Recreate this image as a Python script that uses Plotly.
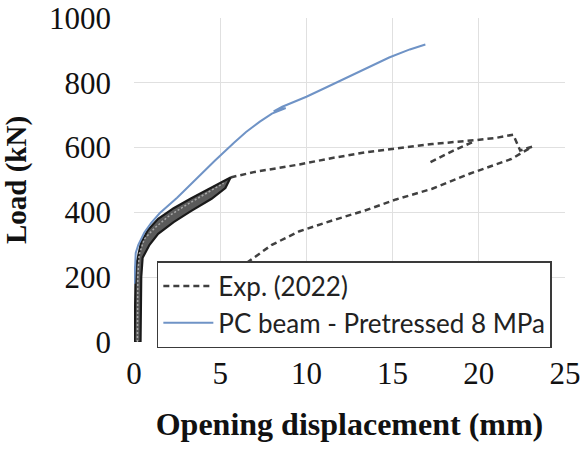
import plotly.graph_objects as go

# PC beam - Pretressed 8 MPa (numerical)
pc_x = [0.02, 0.05, 0.1, 0.25, 0.6, 1.0, 1.5, 2.5, 3.5, 4.7, 5.8, 6.5, 7.3, 8.0,
        8.8, 8.1, 8.6, 10.0, 11.2, 12.3, 13.5, 14.8, 16.0, 16.9]
pc_y = [180, 250, 275, 300, 338, 368, 398, 445, 498, 560, 615, 648, 680, 705,
        722, 712, 726, 757, 787, 815, 847, 878, 903, 918]

# Experimental (2022) - dense initial loading band (outline of the band)
band_x = [0.03, 0.06, 0.1, 0.4, 0.8, 1.4, 2.3, 3.3, 4.5, 5.6,
          5.3, 4.5, 3.3, 2.3, 1.4, 0.9, 0.5, 0.42, 0.38, 0.03]
band_y = [0, 150, 230, 305, 345, 380, 413, 443, 476, 508,
          475, 442, 404, 370, 334, 300, 260, 200, 0, 0]
# inner texture line of the band
inner_x = [0.2, 0.22, 0.3, 0.6, 1.2, 2.0, 3.0, 4.2, 5.2]
inner_y = [0, 200, 270, 318, 352, 388, 422, 458, 490]

# Experimental (2022) - post-yield / unloading part
exp_d_x = [5.6, 7.0, 9.6, 11.5, 13.4, 15.2, 17.3, 19.8, 21.0, 22.0, 22.4, 23.1,
           21.9, 19.5, 17.3, 15.2, 13.4, 11.5, 9.6, 8.0, 6.7, 5.5, 4.0, 3.0, 2.2, None,
           17.2, 18.5, 19.8]
exp_d_y = [508, 525, 548, 568, 585, 596, 611, 623, 630, 640, 591, 603,
           565, 520, 473, 440, 406, 375, 342, 300, 250, 205, 140, 80, 0, None,
           555, 590, 621]

x_ticks = [0, 5, 10, 15, 20, 25]
y_ticks = [0, 200, 400, 600, 800, 1000]

DASH_COL = "#404040"
fig = go.Figure()
fig.add_trace(go.Scatter(x=exp_d_x, y=exp_d_y, mode="lines", name="Exp. (2022)",
                         line=dict(color=DASH_COL, width=2.5, dash="6px,4px"), legendrank=1))
fig.add_trace(go.Scatter(x=band_x, y=band_y, mode="lines", showlegend=False, fill="toself",
                         fillcolor="#5a5a5a", line=dict(color="#1a1a1a", width=2.2)))
fig.add_trace(go.Scatter(x=inner_x, y=inner_y, mode="lines", showlegend=False,
                         line=dict(color="#a8a8a8", width=1.5, dash="2px,2px")))
fig.add_trace(go.Scatter(x=pc_x, y=pc_y, mode="lines", name="PC beam - Pretressed 8 MPa",
                         line=dict(color="#6f93c6", width=2), legendrank=2))

fig.update_layout(
    width=581, height=450,
    margin=dict(l=134, r=16, t=18, b=108),
    plot_bgcolor="white", paper_bgcolor="white",
    showlegend=True,
    legend=dict(x=0.053, y=0.25, xanchor="left", yanchor="top",
                bgcolor="white", bordercolor="#3a3a3a", borderwidth=1.5,
                font=dict(family="Lato", size=26, color="#222222"),
                tracegroupgap=0, itemwidth=50),
    font=dict(family="Liberation Serif", color="#111111"),
)
fig.update_xaxes(range=[0, 25], tickvals=x_ticks, showgrid=True, gridcolor="#e0e0e0", gridwidth=1,
                 zeroline=False, showline=False, ticks="", tickfont=dict(size=31, family="Liberation Serif"),
                 ticklabelstandoff=10,
                 title=dict(text="<b>Opening displacement (mm)</b>", font=dict(size=32, family="Liberation Serif"), standoff=22),
                 automargin=False)
fig.update_yaxes(range=[0, 1000], tickvals=y_ticks, showgrid=True, gridcolor="#e0e0e0", gridwidth=1,
                 zeroline=False, showline=False, ticks="", tickfont=dict(size=31, family="Liberation Serif"),
                 ticklabelstandoff=22,
                 title=dict(text="<b>Load (kN)</b>", font=dict(size=29, family="Liberation Serif"), standoff=14),
                 automargin=False)

fig.write_html("out.html")
